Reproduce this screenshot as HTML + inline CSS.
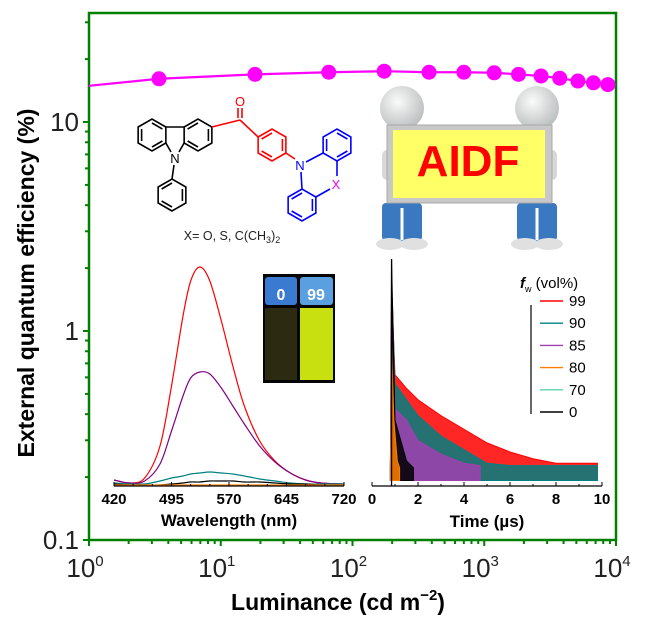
<!DOCTYPE html>
<html><head><meta charset="utf-8"><style>
html,body{margin:0;padding:0;background:#fff;}
svg{display:block;font-family:"Liberation Sans",Arial,sans-serif;}
</style></head><body>
<svg id="c" width="645" height="623" viewBox="0 0 645 623">
<g id="main"></g>
</svg>
<script>
// Main EQE vs luminance data
const luminance = [3.4, 18.2, 66, 174, 381, 700, 1190, 1820, 2700, 3740, 5140, 6740, 8680];
const eqe = [16.1, 16.9, 17.3, 17.5, 17.3, 17.3, 17.2, 16.9, 16.6, 16.2, 15.7, 15.4, 15.1];
const lineStartLum = 1, lineStartEqe = 14.9;
const xTickLabels = ["0","1","2","3","4"];
const yTickVals = [0.1, 1, 10];
const yTickLabels = ["0.1","1","10"];
// PL spectra inset
const wavelengths = [420,440,460,480,495,510,520,532,545,560,575,590,610,630,650,670,690,720];
const plRed =    [6,3,8,40,100,170,205,219,205,165,120,80,45,25,13,6,3,2];
const plPurple = [6,3,5,22,55,90,108,114,112,98,80,62,40,24,13,6,3,2];
const plTeal =   [3,2,2,5,8,10,12,13,14,13,12,10,7,5,3,2,2,2];
const plBlack =  [2,1,1,1,2,3,4,4,5,5,5,4,4,3,2,2,1,1];
const plOrange = [1,1,1,1,1,1,1,1,1,1,1,1,1,1,1,1,1,1];
const wlTicks = [420,495,570,645,720];
// Decay inset
const decayT = {
 red:   [0.8,0.85,1.0,1.5,2,3,4,5,6,7,8,9,9.8],
 teal:  [0.8,0.88,1.0,1.5,2,3,4,5,6,7,8,9,9.8],
 purple:[0.8,0.9,1.0,1.5,2,3,4,4.7],
 black: [0.8,0.85,1.0,1.5,1.8],
 orange:[0.8,0.85,0.95,1.1,1.2]
};
const decayI = {
 red:   [0.05,0.85,0.49,0.43,0.38,0.31,0.25,0.19,0.15,0.12,0.1,0.1,0.1],
 teal:  [0.05,0.83,0.45,0.38,0.31,0.22,0.16,0.1,0.09,0.09,0.09,0.09,0.09],
 purple:[0.05,0.77,0.34,0.29,0.2,0.14,0.1,0.09],
 black: [0.05,1.0,0.29,0.11,0.05],
 orange:[0.05,0.62,0.29,0.11,0.05]
};
const timeTicks = [0,2,4,6,8,10];
const legendLabels = ["99","90","85","80","70","0"];
const legendColors = ["#ff0000","#008080","#a040b0","#ff8000","#60d0a8","#000000"];

const NS="http://www.w3.org/2000/svg";
const root=document.getElementById('main');
function el(tag,attrs,parent,text){const e=document.createElementNS(NS,tag);for(const k in attrs)e.setAttribute(k,attrs[k]);if(text!==undefined)e.textContent=text;(parent||root).appendChild(e);return e;}
function smooth(p){let d='M'+p[0][0]+','+p[0][1];for(let i=0;i<p.length-1;i++){const p0=p[i-1]||p[i],p1=p[i],p2=p[i+1],p3=p[i+2]||p2;
 d+=' C'+(p1[0]+(p2[0]-p0[0])/6)+','+(p1[1]+(p2[1]-p0[1])/6)+' '+(p2[0]-(p3[0]-p1[0])/6)+','+(p2[1]-(p3[1]-p1[1])/6)+' '+p2[0]+','+p2[1];}return d;}

// axes functions main
const X0=89,X1=616,Y0=540,Ytop=13;
const xs=v=>X0+Math.log10(v)*(X1-X0)/4;
const ys=v=>Y0-(Math.log10(v)+1)*209;

let fr=el('rect',{x:X0,y:Ytop,width:X1-X0,height:Y0-Ytop,fill:'none',stroke:'#008000','stroke-width':2.5});



for(let d=0;d<4;d++){for(let m=1;m<10;m++){const v=Math.pow(10,d)*m;const x=xs(v);const len=m===1?6:4;
 const t=el('line',{x1:x,y1:Y0,x2:x,y2:Y0+len,stroke:'#008000','stroke-width':2});
 }}
el('line',{x1:X1,y1:Y0,x2:X1,y2:Y0+6,stroke:'#008000','stroke-width':2});
xTickLabels.forEach((s,i)=>{const x=xs(Math.pow(10,i));
 const g=el('text',{x:x-4,y:577,'font-size':26,'text-anchor':'middle',fill:'#222'});
 
 el('tspan',{},g,'10');el('tspan',{dy:-11,'font-size':15},g,s);});
for(let d=-1;d<2;d++){for(let m=1;m<10;m++){const v=Math.pow(10,d)*m;const y=ys(v);if(y<Ytop)continue;const len=m===1?6:4;
 const t=el('line',{x1:X0,y1:y,x2:X0-len,y2:y,stroke:'#008000','stroke-width':2});
 }}
yTickVals.forEach((v,i)=>{const t=el('text',{x:79,y:ys(v)+9,'font-size':26,'text-anchor':'end',fill:'#222'},root,yTickLabels[i]);
 });
let yt=el('text',{x:0,y:0,'font-size':23,'font-weight':'bold','text-anchor':'middle',transform:'translate(34,283) rotate(-90)'},root,'External quantum efficiency (%)');

let xt=el('text',{x:338,y:610,'font-size':23,'font-weight':'bold','text-anchor':'middle'});

el('tspan',{},xt,'Luminance (cd m');el('tspan',{dy:-10,'font-size':15},xt,'\u22122');el('tspan',{dy:10},xt,')');

let pts=[[xs(lineStartLum),ys(lineStartEqe)]].concat(luminance.map((l,i)=>[xs(l),ys(eqe[i])]));
let pl=el('polyline',{points:pts.map(p=>p.join(',')).join(' '),fill:'none',stroke:'#ff00ff','stroke-width':2.2});

luminance.forEach((l,i)=>{const c=el('circle',{cx:xs(l),cy:ys(eqe[i]),r:7.5,fill:'#ff00ff'});
 });

// ---- molecule ----
const mol=el('g',{'stroke-width':1.6,fill:'none'});

function hex(cx,cy,r,col,rot,inner){let p=[];for(let k=0;k<6;k++){const a=(rot+60*k)*Math.PI/180;p.push([cx+r*Math.cos(a),cy+r*Math.sin(a)]);}
 el('polygon',{points:p.map(q=>q.join(',')).join(' '),stroke:col},mol);
 (inner||[]).forEach(k=>{const a=p[k],b=p[(k+1)%6];const s=0.75;el('line',{x1:cx+(a[0]-cx)*s,y1:cy+(a[1]-cy)*s,x2:cx+(b[0]-cx)*s,y2:cy+(b[1]-cy)*s,stroke:col},mol);});return p;}
function ln(a,b,c,d,col){el('line',{x1:a,y1:b,x2:c,y2:d,stroke:col},mol);}
function lbl(x,y,t,col){el('text',{x:x,y:y,'font-size':13,fill:col,stroke:'none','text-anchor':'middle'},mol,t);}
hex(152,135,16,'#000',30,[0,2,4]);
hex(198,135,16,'#000',30,[1,3,5]);
ln(165.9,127,184.1,127,'#000');
ln(165.9,143,171,152,'#000');ln(184.1,143,179,152,'#000');
lbl(175,163,'N','#000');
ln(174,165,172,179,'#000');
hex(172,195,16,'#000',90,[0,2,4]);
ln(211.9,127,240,120,'#ff0000');ln(240,120,258.1,137,'#ff0000');
ln(238,118,238,108,'#ff0000');ln(242,118,242,108,'#ff0000');
lbl(240,106,'O','#ff0000');
hex(272,145,16,'#ff0000',30,[1,3,5]);
ln(285.9,153,295,159,'#ff0000');
lbl(300,170,'N','#0000ff');
hex(337,145,16,'#0000ff',30,[0,2,4]);
hex(302,205,16,'#0000ff',30,[1,3,5]);
ln(306,162,323.1,153,'#0000ff');ln(301,172,302,189,'#0000ff');
ln(337,161,337,176,'#0000ff');ln(315.9,197,330,189,'#0000ff');
lbl(336,189,'X','#ff00ff');
let cap=el('text',{x:232,y:240,'font-size':12.5,fill:'#222','text-anchor':'middle'});

el('tspan',{},cap,'X= O, S, C(CH');el('tspan',{dy:3,'font-size':9},cap,'3');el('tspan',{dy:-3},cap,')');el('tspan',{dy:3,'font-size':9},cap,'2');

// ---- AIDF cartoon ----
const art=el('g',{});

const gd=el('defs',{},art);
const rg=el('radialGradient',{id:'hd',cx:'0.4',cy:'0.35',r:'0.7'},gd);
el('stop',{offset:'0','stop-color':'#fafafa'},rg);el('stop',{offset:'1','stop-color':'#b8bcbc'},rg);
[402,537].forEach(cx=>{
 el('rect',{x:cx-20,y:203,width:40,height:38,rx:4,fill:'#3a78c0'},art);
 el('line',{x1:cx,y1:208,x2:cx,y2:240,stroke:'#fff','stroke-width':3},art);
 el('ellipse',{cx:cx-12,cy:244,rx:14,ry:6,fill:'#e0e0e0'},art);
 el('ellipse',{cx:cx+12,cy:244,rx:14,ry:6,fill:'#e0e0e0'},art);
 el('circle',{cx:cx,cy:108,r:22,fill:'url(#hd)'},art);
});
el('rect',{x:382,y:150,width:12,height:30,rx:5,fill:'#d8d8d8'},art);
el('rect',{x:545,y:150,width:12,height:30,rx:5,fill:'#d8d8d8'},art);
el('rect',{x:387,y:125,width:165,height:78,fill:'#c8c8c8',stroke:'#a8a8a8','stroke-width':1},art);
let board=el('rect',{x:393,y:130,width:152,height:68,fill:'#ffff66'},art);

let at=el('text',{x:468,y:176,'font-size':44,'font-weight':'bold',fill:'#ff0000','text-anchor':'middle'},art,'AIDF');


// ---- PL spectra inset ----
const sp=el('g',{});

const SX0=114,SX1=344,SB=486;
const wx=w=>SX0+(w-420)*(SX1-SX0)/300;
const wy=v=>SB-v;
[[plRed,'#ff0000','pl-99'],[plPurple,'#800080','pl-85'],[plTeal,'#008080','pl-90'],[plBlack,'#000','pl-0'],[plOrange,'#ff8000','pl-80']].forEach(([arr,col,nm])=>{
 const p=el('path',{d:smooth(wavelengths.map((w,i)=>[wx(w),wy(arr[i])])),fill:'none',stroke:col,'stroke-width':1.2},sp);
 });
el('line',{x1:SX0,y1:SB,x2:SX1,y2:SB,stroke:'#000','stroke-width':1.2},sp);
for(let w=420;w<=720;w+=25){el('line',{x1:wx(w),y1:SB,x2:wx(w),y2:SB-((w-420)%75===0?4:2),stroke:'#000'},sp);}
wlTicks.forEach(w=>{const t=el('text',{x:wx(w),y:504,'font-size':15,'text-anchor':'middle','font-weight':'bold'},sp,String(w));
 });
let wt=el('text',{x:229,y:526,'font-size':17,'font-weight':'bold','text-anchor':'middle'},sp,'Wavelength (nm)');

const ph=el('g',{},sp);

el('rect',{x:263,y:274,width:72,height:109,fill:'#050505'},ph);
el('rect',{x:265,y:277,width:32,height:28,rx:3,fill:'#3a7ad0'},ph);
el('rect',{x:300,y:277,width:33,height:28,rx:3,fill:'#5aa0e0'},ph);
el('rect',{x:265,y:308,width:32,height:72,fill:'#2c2a10'},ph);
el('rect',{x:300,y:308,width:33,height:72,fill:'#c8e010'},ph);
el('text',{x:281,y:300,'font-size':16,'font-weight':'bold',fill:'#fff','text-anchor':'middle'},ph,'0');
el('text',{x:316,y:300,'font-size':16,'font-weight':'bold',fill:'#fff','text-anchor':'middle'},ph,'99');

// ---- Decay inset ----
const dc=el('g',{});

const TX0=372,TX1=602,TB=486,TH=227;
const tx=t=>TX0+t*(TX1-TX0)/10;
const ty=v=>TB-v*TH;
const floorV=0.08;
[['red','#ff0000','decay-99'],['teal','#008080','decay-90'],['purple','#a040b0','decay-85'],['black','#000','decay-0'],['orange','#ff8000','decay-80']].forEach(([k,col,nm])=>{
 const T=decayT[k],I=decayI[k];
 let p=T.map((t,i)=>tx(t)+','+ty(Math.max(I[i],floorV)));
 p.push(tx(T[T.length-1])+','+ty(floorV*0.3));p.push(tx(T[0])+','+ty(floorV*0.3));
 const poly=el('polygon',{points:p.join(' '),fill:col,stroke:col,'stroke-width':1,'fill-opacity':0.85},dc);
 });
let sk=el('line',{x1:tx(0.85),y1:TB,x2:tx(0.85),y2:ty(1.0),stroke:'#000','stroke-width':1.3},dc);

el('line',{x1:TX0,y1:TB,x2:TX1,y2:TB,stroke:'#000','stroke-width':1.2},dc);
for(let t=0;t<=10;t+=1){el('line',{x1:tx(t),y1:TB,x2:tx(t),y2:TB-(t%2===0?4:2),stroke:'#000'},dc);}
timeTicks.forEach(t=>{const e=el('text',{x:tx(t),y:504,'font-size':15,'text-anchor':'middle','font-weight':'bold'},dc,String(t));
 });
let tt=el('text',{x:487,y:527,'font-size':17,'font-weight':'bold','text-anchor':'middle'},dc,'Time (\u00b5s)');

const lg=el('g',{},dc);

let lt=el('text',{x:520,y:288,'font-size':15},lg);
el('tspan',{'font-style':'italic','font-weight':'bold'},lt,'f');el('tspan',{dy:4,'font-size':9},lt,'w');el('tspan',{dy:-4},lt,' (vol%)');
el('line',{x1:531,y1:305,x2:531,y2:414,stroke:'#000','stroke-width':1.2},lg);
legendLabels.forEach((s,i)=>{const y=301+i*22.2;
 const e=el('line',{x1:540,y1:y,x2:563,y2:y,stroke:legendColors[i],'stroke-width':1.4},lg);
 
 el('text',{x:569,y:y+5,'font-size':15},lg,s);});
</script>
</body></html>
